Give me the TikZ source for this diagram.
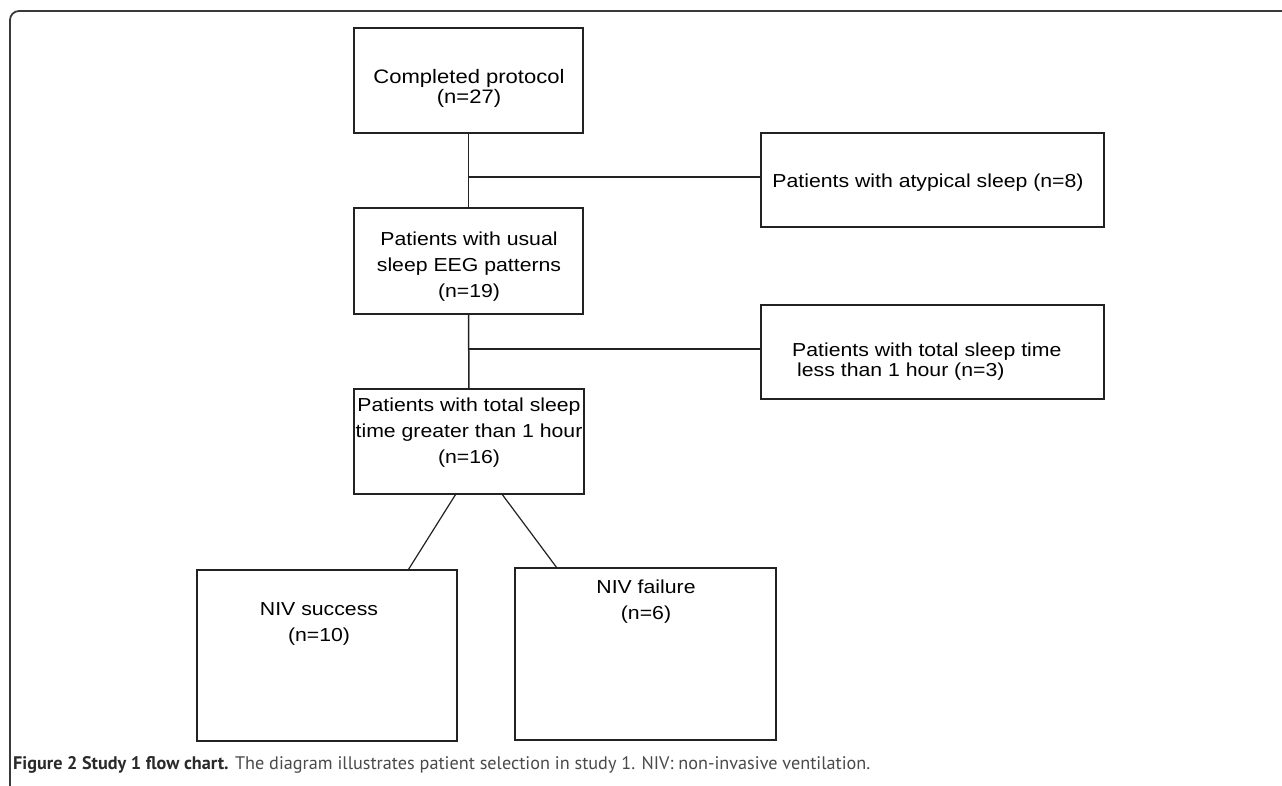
\documentclass[tikz,border=0pt]{standalone}
\usepackage{fontspec}
\usetikzlibrary{calc}
\newfontfamily\boxfont[FakeStretch=1.13]{Liberation Sans}
\newfontfamily\capfont{PT Sans}
\definecolor{linegray}{HTML}{222222}
\definecolor{framegray}{HTML}{3A3A3A}
\definecolor{capgray}{HTML}{4A4A4A}
\definecolor{capdark}{HTML}{2A2A2A}
\begin{document}
\begin{tikzpicture}[x=1pt,y=-1pt,
  stepbox/.style={draw=linegray, line width=1.6pt, inner sep=0pt, outer sep=0pt},
  boxtext/.style={inner sep=0pt, align=center, font=\boxfont\fontsize{18.8}{26}\selectfont},
  conn/.style={draw=linegray, line width=1.5pt},
  framestyle/.style={draw=framegray, line width=1.8pt, rounded corners=9pt}]
\useasboundingbox (0,0) rectangle (1282,785);
\fill[white] (0,0) rectangle (1282,785);
% frame
\draw[framestyle] (1300,11) -- (10,11) -- (10,800);
% boxes
\node (b1) [stepbox, minimum width=229pt, minimum height=105pt] at (468.5,80.5) {};
\node (b2) [stepbox, minimum width=229pt, minimum height=106pt] at (468.5,261) {};
\node (b3) [stepbox, minimum width=230pt, minimum height=105pt] at (469,441.5) {};
\node (a1) [stepbox, minimum width=343pt, minimum height=94pt] at (932.5,180) {};
\node (a2) [stepbox, minimum width=343pt, minimum height=94pt] at (932.5,352) {};
\node (s1) [stepbox, minimum width=260pt, minimum height=171pt] at (327,655.5) {};
\node (f1) [stepbox, minimum width=261pt, minimum height=172pt] at (645.5,654) {};
% texts
\node (t1) [boxtext, font=\boxfont\fontsize{19.5}{20}\selectfont] at (469,88) {Completed protocol\\(n=27)};
\node (t2) [boxtext] at (469,267) {Patients with usual\\sleep EEG patterns\\(n=19)};
\node (t3) [boxtext] at (469,433) {Patients with total sleep\\time greater than 1 hour\\(n=16)};
\node (ta1) [boxtext] at (928,183) {Patients with atypical sleep (n=8)};
\node (ta2) [boxtext, anchor=west] at (792,352) {Patients with total sleep time};
\node (ta3) [boxtext, anchor=west] at (797,372) {less than 1 hour (n=3)};
\node (ts1) [boxtext] at (319,624) {NIV success\\(n=10)};
\node (tf1) [boxtext] at (646,601.5) {NIV failure\\(n=6)};
% connectors
\coordinate (j1) at (469,177);
\coordinate (j2) at (469,349);
\draw[conn] (b1.south) -- (b2.north);
\draw[conn] (j1) -- (j1 -| a1.west);
\draw[conn] (b2.south) -- (b3.north);
\draw[conn] (j2) -- (j2 -| a2.west);
\draw[conn, line width=1.2pt] ($(b3.south west)!0.443!(b3.south east)$) -- ($(s1.north west)!0.812!(s1.north east)$);
\draw[conn, line width=1.2pt] ($(b3.south west)!0.643!(b3.south east)$) -- ($(f1.north west)!0.161!(f1.north east)$);
% caption
\node (cap) [anchor=base west, inner sep=0pt, font=\capfont\fontsize{18.2}{20}\selectfont] at (13,769)
  {\textcolor{capdark}{\bfseries Figure 2 Study 1 flow chart.} \textcolor{capgray}{The diagram illustrates patient selection in study 1. NIV: non-invasive ventilation.}};
\end{tikzpicture}
\end{document}
